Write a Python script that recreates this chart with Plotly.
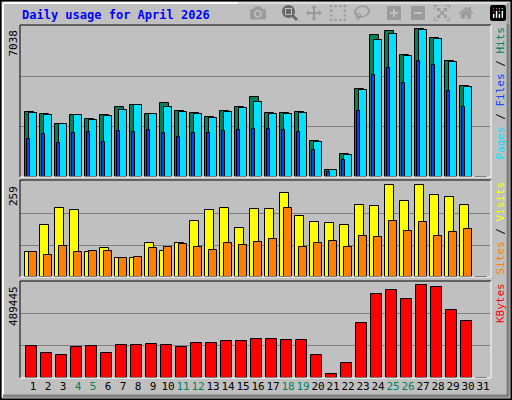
import plotly.graph_objects as go

days = list(range(1, 32))
hits = [3052,2958,2491,2912,2725,2912,3285,3379,2958,3472,3098,3005,2818,3098,3285,3706,3005,3005,3052,1697,343,1090,4079,6602,6789,5668,6882,6462,5387,4219,0]
files = [3005,2912,2491,2912,2678,2865,3145,3379,2958,3285,3052,2958,2771,3052,3238,3519,2958,2958,3005,1650,343,1043,4033,6368,6648,5621,6835,6415,5341,4173,0]
pages = [1790,2024,1604,2071,2118,1650,2164,2118,2211,2071,1884,2071,2071,2164,2211,2258,2258,2211,2118,1277,249,810,3098,4733,5060,4360,5387,5200,3986,3285,0]
visits = [69,143,190,182,69,78,52,52,94,72,94,154,182,190,133,185,187,231,168,151,149,143,198,193,253,207,251,223,220,198,0]
sites = [69,61,85,69,72,72,52,55,80,83,91,83,74,94,88,96,105,190,83,94,99,83,113,110,154,127,151,113,124,130,0]
kbytes = [161400,125300,115000,156200,161400,125300,166500,166500,171700,166500,156200,176900,176900,187200,187200,197500,197500,192300,192300,115000,22300,73800,279900,424100,444700,398300,470500,460200,346800,290200,0]
weekend = [4,5,11,12,18,19,25,26]
max_hits, max_visits, max_kb = 7038, 259, 489445

C_HITS, C_FILES, C_PAGES = "#00805C", "#0040FF", "#00E0FF"
C_VISITS, C_SITES, C_KB = "#FFFF00", "#FF8000", "#FF0000"
BG = "#C0C0C0"
FONT = "DejaVu Sans Mono"

fig = go.Figure()
ln = dict(color="black", width=1)
def bar(y, color, off, w, ax):
    fig.add_trace(go.Bar(x=days, y=y, marker=dict(color=color, line=ln),
                         offset=off, width=w, xaxis=ax[0], yaxis=ax[1], showlegend=False))

bar(hits, C_HITS, -0.51, 0.55, ("x", "y"))
bar(files, C_PAGES, -0.25, 0.49, ("x", "y"))
bar(pages, C_FILES, -0.42, 0.2, ("x", "y"))
bar(visits, C_VISITS, -0.51, 0.55, ("x2", "y2"))
bar(sites, C_SITES, -0.25, 0.49, ("x2", "y2"))
bar(kbytes, C_KB, -0.47, 0.71, ("x3", "y3"))

xr = [0.133, 31.53]
xd = [20/512, 491/512]
ticktext = [f"<span style='color:{C_HITS}'>{d}</span>" if d in weekend else str(d) for d in days]
common_x = dict(range=xr, domain=xd, showgrid=False, zeroline=False, showline=False, ticks="")
common_y = dict(showticklabels=False, zeroline=False, showline=False, ticks="",
                gridcolor="#808080", gridwidth=1)
fig.update_layout(
    width=512, height=400, margin=dict(l=0, r=0, t=0, b=0, autoexpand=False),
    paper_bgcolor=BG, plot_bgcolor=BG, barmode="overlay", bargap=0,
    font=dict(family=FONT, size=11, color="black"),
    xaxis=dict(**common_x, anchor="y", showticklabels=False),
    xaxis2=dict(**common_x, anchor="y2", showticklabels=False),
    xaxis3=dict(**common_x, anchor="y3", tickvals=days, ticktext=ticktext, tickangle=0,
                automargin=False, tickfont=dict(family=FONT, size=11)),
    yaxis=dict(**common_y, domain=[0.5575, 0.9375], range=[0, max_hits*152/151],
               tickvals=[max_hits/3, 2*max_hits/3]),
    yaxis2=dict(**common_y, domain=[0.3075, 0.55], range=[0, max_visits*96.3/94],
                tickvals=[max_visits/3, 2*max_visits/3]),
    yaxis3=dict(**common_y, domain=[0.055, 0.2975], range=[0, max_kb*1.005],
                tickvals=[max_kb/3, 2*max_kb/3]),
)

shapes = []
shapes.append(dict(type="rect", xref="paper", yref="paper", x0=0.001, y0=0.001, x1=0.999, y1=0.999,
                   line=dict(color="black", width=2)))
shapes.append(dict(type="line", xref="paper", yref="paper", x0=3/512, y0=1-3/400, x1=509/512, y1=1-3/400, line=dict(color="white", width=2)))
shapes.append(dict(type="line", xref="paper", yref="paper", x0=3/512, y0=1-3/400, x1=3/512, y1=3/400, line=dict(color="white", width=2)))
shapes.append(dict(type="line", xref="paper", yref="paper", x0=3/512, y0=4/400, x1=509/512, y1=4/400, line=dict(color="#808080", width=3)))
shapes.append(dict(type="line", xref="paper", yref="paper", x0=508/512, y0=1-3/400, x1=508/512, y1=4/400, line=dict(color="#808080", width=3)))
for dom in ([0.5575, 0.9375], [0.3075, 0.55], [0.055, 0.2975]):
    y0, y1 = dom
    shapes.append(dict(type="line", xref="paper", yref="paper", x0=xd[0], x1=xd[1], y0=y1, y1=y1, line=dict(color="black", width=1)))
    shapes.append(dict(type="line", xref="paper", yref="paper", x0=xd[0], x1=xd[0], y0=y0, y1=y1, line=dict(color="black", width=1)))
    shapes.append(dict(type="line", xref="paper", yref="paper", x0=xd[0], x1=xd[1], y0=y0, y1=y0, line=dict(color="white", width=1)))
    shapes.append(dict(type="line", xref="paper", yref="paper", x0=xd[1], x1=xd[1], y0=y0, y1=y1, line=dict(color="white", width=1)))
fig.update_layout(shapes=shapes)

ann = []
ann.append(dict(text="<b>Daily usage for April 2026</b>", x=20/512, y=1-15/400, xref="paper", yref="paper",
                xanchor="left", yanchor="middle", showarrow=False, font=dict(color="#0000FF", size=12, family=FONT)))
for val, ytop in ((max_hits, 0.93), (max_visits, 0.54), (max_kb, 0.29)):
    ann.append(dict(text=str(val), x=13/512, y=ytop, xref="paper", yref="paper", textangle=-90,
                    xanchor="center", yanchor="top", showarrow=False, font=dict(size=11, family=FONT)))
def sp(t, c): return f"<span style='color:{c}'>{t}</span>"
ann.append(dict(text=sp("Pages", C_PAGES)+" / "+sp("Files", C_FILES)+" / "+sp("Hits", C_HITS),
                x=500/512, y=0.9375, xref="paper", yref="paper", textangle=-90, xanchor="center", yanchor="top",
                showarrow=False, font=dict(size=11, family=FONT)))
ann.append(dict(text=sp("Sites", C_SITES)+" / "+sp("Visits", C_VISITS),
                x=500/512, y=0.55, xref="paper", yref="paper", textangle=-90, xanchor="center", yanchor="top",
                showarrow=False, font=dict(size=11, family=FONT)))
ann.append(dict(text=sp("KBytes", C_KB),
                x=500/512, y=0.2975, xref="paper", yref="paper", textangle=-90, xanchor="center", yanchor="top",
                showarrow=False, font=dict(size=11, family=FONT)))
fig.update_layout(annotations=ann)

fig.write_html("out.html", post_script="document.body.style.margin='0';document.body.style.overflow='hidden';")
